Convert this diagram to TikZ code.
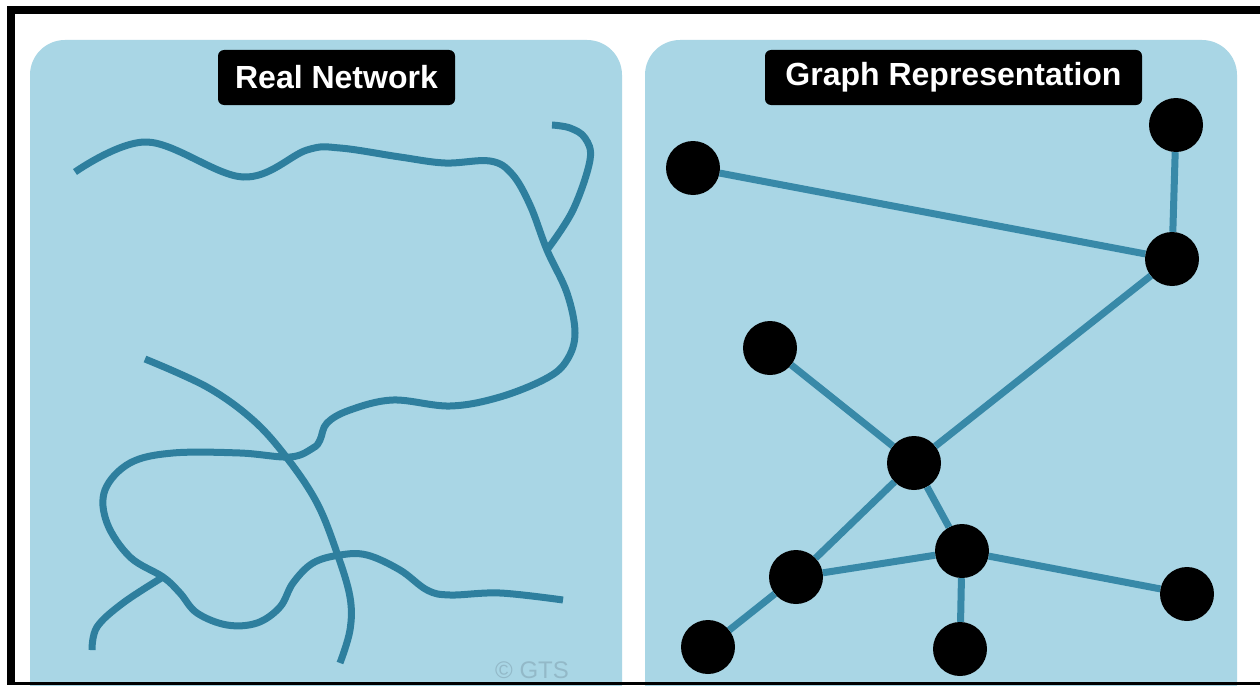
\documentclass[tikz,border=0pt]{standalone}
\usepackage{fontspec}
\setmainfont{Liberation Sans}
\definecolor{panelblue}{HTML}{A9D6E5}
\definecolor{netblue}{HTML}{2E7F9E}
\definecolor{edgeblue}{HTML}{3889A8}
\definecolor{wmgray}{HTML}{93B9C8}
\tikzset{
  panel/.style={fill=panelblue, rounded corners=35pt},
  titlebox/.style={fill=black, rounded corners=6pt, text=white, inner sep=0pt,
    minimum height=55pt, font=\bfseries\fontsize{32}{36}\selectfont},
  netline/.style={draw=netblue, line width=7pt, line cap=butt, line join=round},
  vertex/.style={circle, fill=black, minimum size=54pt, inner sep=0pt},
  edge/.style={draw=edgeblue, line width=7pt}
}
\begin{document}
\begin{tikzpicture}[x=1pt,y=-1pt]
\useasboundingbox (0,0) rectangle (1260,685);
\clip (0,0) rectangle (1260,685);
\fill[white] (0,0) rectangle (1260,685);
% panels
\fill[panel] (30,40) rectangle (622,720);
\fill[panel] (645,40) rectangle (1237,720);
% titles
\node[titlebox, minimum width=237pt] (t1) at (336.5,77.5) {Real Network};
\node[titlebox, minimum width=377pt] (t2) at (953.5,77.5) {Graph Representation};
% real network
\draw[netline] plot[smooth, tension=0.6] coordinates {
 (75,172) (147,142) (243,177) (307,150) (340,148)
 (400,157) (445,163) (490,161) (512,174) (530,205) (547,250) (567,293) (575,333)
 (567,360) (547,378) (500,397) (450,406) (393,400) (350,410) (327,423) (320,440)
 (313,448) (290,457) (240,453) (173,453) (130,463) (105,490) (107,523) (130,557)
 (163,577) (180,593) (197,613) (227,625) (257,623) (280,607) (293,583) (313,563)
 (340,555) (367,555) (400,570) (427,590) (450,595) (500,593) (563,600)};
\draw[netline] plot[smooth, tension=0.6] coordinates {
 (145,359) (207,387) (253,420) (287,458) (317,503) (337,553) (350,597) (350,630) (340,663)};
\draw[netline] plot[smooth, tension=0.6] coordinates {
 (547,250) (573,210) (590,160) (585,138) (570,128) (552,125)};
\draw[netline] plot[smooth, tension=0.6] coordinates {
 (163,577) (123,603) (97,627) (92,650)};
% graph
\node[vertex] (n1) at (693,168) {};
\node[vertex] (n2) at (1176,125) {};
\node[vertex] (n3) at (1172,259) {};
\node[vertex] (n4) at (770,348) {};
\node[vertex] (n5) at (914,463) {};
\node[vertex] (n6) at (962,551) {};
\node[vertex] (n7) at (796,577) {};
\node[vertex] (n8) at (1187,594) {};
\node[vertex] (n9) at (708,647) {};
\node[vertex] (n10) at (960,649) {};
\draw[edge] (n1) -- (n3);
\draw[edge] (n2) -- (n3);
\draw[edge] (n3) -- (n5);
\draw[edge] (n4) -- (n5);
\draw[edge] (n5) -- (n6);
\draw[edge] (n5) -- (n7);
\draw[edge] (n7) -- (n6);
\draw[edge] (n6) -- (n8);
\draw[edge] (n6) -- (n10);
\draw[edge] (n7) -- (n9);
% watermark
\node[anchor=base west, text=wmgray, font=\fontsize{24}{28}\selectfont, inner sep=0pt] (wm) at (495,678) {© GTS};
% frame
\fill[black] (7,6) rectangle (1260,14);
\fill[black] (7,6) rectangle (15,685);
\fill[black] (7,682) rectangle (1260,685);
\end{tikzpicture}
\end{document}
